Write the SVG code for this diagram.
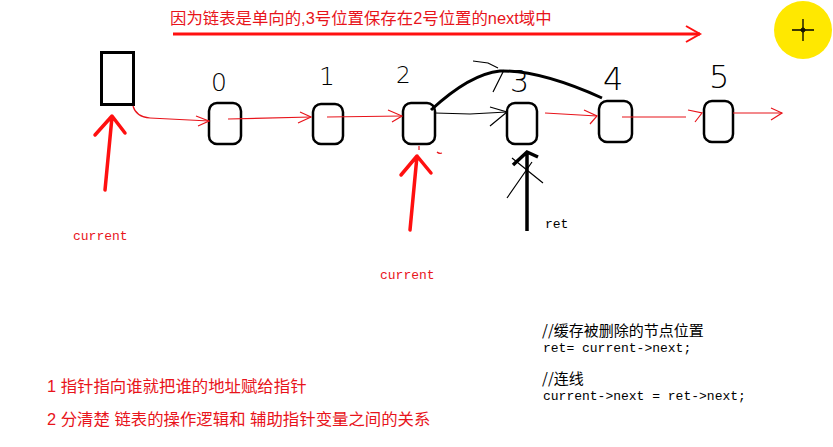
<svg xmlns="http://www.w3.org/2000/svg" width="833" height="447" viewBox="0 0 833 447">
<defs>
<style>
.node{fill:none;stroke:#000;stroke-width:2.5}
.red{fill:none;stroke:#e8141b;stroke-width:1.2}
.redthick{fill:none;stroke:#ff1010;stroke-width:3.5;stroke-linecap:round;stroke-linejoin:round}
.blk{fill:none;stroke:#000;stroke-width:1.2}
.lbl{font-family:"DejaVu Sans ExtraLight","DejaVu Sans",sans-serif;font-weight:200;fill:#000}
.rtxt{font-family:"Liberation Sans","Noto Sans CJK SC",sans-serif;font-size:16.4px;fill:#e8141b}
.mono{font-family:"Liberation Mono","Noto Sans CJK SC",monospace;font-size:13px}
.code{font-family:"Liberation Mono","Noto Sans CJK SC",monospace;font-size:13px;fill:#000}
.cjk{font-family:"Noto Sans CJK SC",sans-serif;font-size:15px;fill:#000}
</style>
</defs>
<rect width="833" height="447" fill="#fff"/>

<g id="title">
<text class="rtxt" x="170" y="24">因为链表是单向的,3号位置保存在2号位置的next域中</text>
<path d="M173 34 L700 34" fill="none" stroke="#ff1010" stroke-width="3"/>
<path d="M686 26 L700 34 L686 42" fill="none" stroke="#ff1010" stroke-width="2"/>
</g>

<g id="sun">
<circle cx="803" cy="30" r="29" fill="#ffe800"/>
<path d="M792 30 H814 M803 19 V41" stroke="#000" stroke-width="1.3"/>
<circle cx="803" cy="30" r="2" fill="none" stroke="#000" stroke-width="1"/>
</g>

<g id="head"><rect x="101.5" y="52.5" width="32" height="52" fill="none" stroke="#000" stroke-width="3"/></g>
<g id="node0"><rect class="node" x="209" y="103" width="32" height="41" rx="8"/><text class="lbl" x="211" y="91" font-size="25">0</text></g>
<g id="node1"><rect class="node" x="313" y="104" width="30" height="40" rx="8"/><text class="lbl" x="319" y="85" font-size="25">1</text></g>
<g id="node2"><rect class="node" x="403" y="103" width="32" height="41" rx="8"/><text class="lbl" x="396" y="83" font-size="23">2</text></g>
<g id="node3"><rect class="node" x="507" y="103" width="30" height="41" rx="8"/><text class="lbl" x="510" y="92" font-size="30">3</text><path class="blk" d="M473 61 L488 63 L498 68 M504 70 L493 92"/></g>
<g id="node4"><rect class="node" x="599" y="101" width="33" height="41" rx="8"/><text class="lbl" x="603" y="90" font-size="32">4</text></g>
<g id="node5"><rect class="node" x="704" y="101" width="29" height="41" rx="8"/><text class="lbl" x="709" y="88" font-size="32">5</text></g>

<g id="connectors">
<path class="red" d="M133 106 Q136 117 150 118 L209 121"/>
<path class="red" d="M196 116 L209 121 L198 126"/>
<path class="red" d="M228 119 L311 117"/>
<path class="red" d="M300 112 L311 117 L298 123"/>
<path class="red" d="M327 117 L402 116"/>
<path class="red" d="M388 110 L402 116 L392 122"/>
<path class="blk" d="M435 113 L470 114 L507 112"/>
<path class="blk" d="M490 107 L507 112 L490 126"/>
<path class="red" d="M545 113 L597 116"/>
<path class="red" d="M584 110 L597 116 L590 124"/>
<path class="red" d="M622 117 L686 117"/>
<path class="red" d="M688 110 L702 113 L695 122"/>
<path class="red" d="M733 113 L782 113"/>
<path class="red" d="M771 108 L782 113 L771 120"/>
<path d="M431 110 Q470 74 500 71 Q540 70 602 98" fill="none" stroke="#000" stroke-width="3"/>
</g>

<g id="pointer-current1">
<path class="redthick" d="M105 190 L112 117 M95 135 L112 116 L125 133"/>
<text class="mono" x="73" y="240" fill="#e8141b">current</text>
</g>
<g id="pointer-current2">
<path class="redthick" d="M410 230 L417 156 M401 175 L417 156 L431 173"/>
<path class="red" d="M419 146 L419 150 M437 152 Q439 154 442 153"/>
<text class="mono" x="380" y="279" fill="#e8141b">current</text>
</g>
<g id="pointer-ret">
<path d="M527 231 L527 152 M513 165 L527 152 L538 157" fill="none" stroke="#000" stroke-width="3.5"/>
<path class="blk" d="M507 198 L532 162 M512 158 L543 183"/>
<text class="code" x="545" y="228">ret</text>
</g>

<g id="code">
<text class="cjk" x="542" y="336">//缓存被删除的节点位置</text>
<text class="code" x="543" y="352">ret= current-&gt;next;</text>
<text class="cjk" x="542" y="384">//连线</text>
<text class="code" x="543" y="400">current-&gt;next = ret-&gt;next;</text>
</g>

<g id="notes">
<text class="rtxt" x="47" y="392">1 指针指向谁就把谁的地址赋给指针</text>
<text class="rtxt" x="47" y="425">2 分清楚 链表的操作逻辑和 辅助指针变量之间的关系</text>
</g>
</svg>
